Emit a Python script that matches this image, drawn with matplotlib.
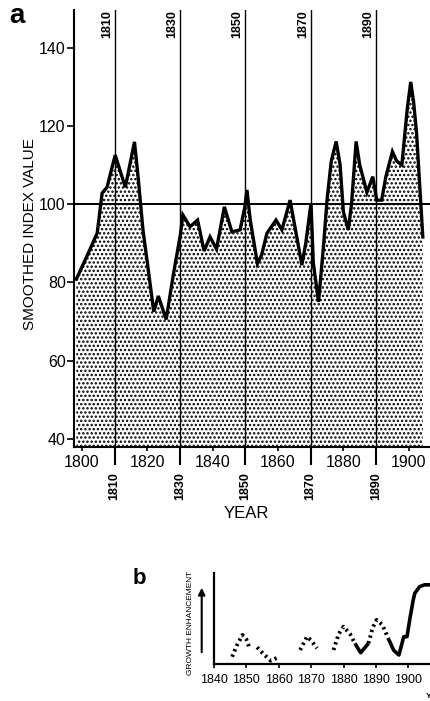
import matplotlib
matplotlib.use("Agg")
import matplotlib.pyplot as plt
from matplotlib import transforms

plt.rcParams['font.family'] = ['Liberation Sans', 'DejaVu Sans']
plt.rcParams['hatch.linewidth'] = 1.15

# ---- panel a data ----
years_a = [1798.3, 1802, 1804.7, 1806.2, 1807.7, 1810.2, 1813.3, 1816.1, 1817.2,
           1818.7, 1820.5, 1822, 1823.4, 1825.8, 1828, 1830.1, 1830.9, 1833.1,
           1835.4, 1837.4, 1839.2, 1841.2, 1843.6, 1845.9, 1848.4, 1849.8, 1850.5,
           1851.5, 1853.7, 1855, 1856.6, 1859.4, 1861.2, 1863.7, 1865, 1867.3,
           1868.5, 1870.1, 1870.8, 1872.4, 1874, 1875, 1876.3, 1877.8, 1879, 1880,
           1881.5, 1882.5, 1883.9, 1885, 1887.2, 1889, 1890.2, 1891.7, 1893, 1895,
           1896.3, 1897.9, 1899.5, 1900.6, 1901.5, 1902.4, 1904.3]
index_a = [80.8, 87.5, 92.6, 102.8, 104.3, 112.5, 104.3, 115.9, 107,
           93.4, 82, 72.5, 76.5, 70.5, 82, 92, 97.2, 94.2,
           95.9, 88, 91.6, 88.5, 99.3, 92.9, 93.4, 99, 103.6,
           96, 84.8, 87, 92.5, 95.9, 93.4, 101, 95, 84.4,
           90, 100.2, 85, 75, 90, 101, 111, 116, 110, 98,
           93.4, 100, 116, 110, 103, 107, 101, 101, 107, 113.4,
           111, 110, 124, 131.2, 126, 118, 91.6]
decade_lines = [1810, 1830, 1850, 1870, 1890]
xticks_a = [1800, 1820, 1840, 1860, 1880, 1900]
yticks_a = [40, 60, 80, 100, 120, 140]

# ---- panel b data ----
b_segments = [
    ('dotted', [1845.6, 1847, 1848.8, 1850, 1851], [8, 20, 31.9, 27, 17.3]),
    ('dotted', [1853.3, 1855, 1857.5, 1859.8], [18.4, 12, 3.6, 7.3]),
    ('dotted', [1866.6, 1868.7, 1870, 1871.8], [15.4, 30, 26, 17.3]),
    ('dotted', [1876.9, 1878.5, 1880, 1882, 1883.5], [15.4, 33, 41, 33, 22.7]),
    ('solid', [1883.5, 1885.3, 1887.7], [22.7, 12.4, 22.7]),
    ('dotted', [1887.7, 1889, 1890.2, 1892, 1893.8], [22.7, 40, 48.4, 43, 28.2]),
    ('solid', [1893.8, 1895.5, 1897.1, 1898.6, 1899.6, 1900.5, 1901.5, 1902, 1903.5, 1905, 1906.7],
     [28.2, 15, 9.9, 30, 30, 50, 70, 77.7, 85, 87, 87]),
]
xticks_b = [1840, 1850, 1860, 1870, 1880, 1890, 1900]

W, H = 430, 701
fig = plt.figure(figsize=(W / 100, H / 100), dpi=100)

# ---------------- panel a ----------------
ax = fig.add_axes([74 / W, 1 - 447 / H, (W - 74) / W, (447 - 10) / H])
ax.set_xlim(1797.6, 1906.5)
ax.set_ylim(37.9, 149.6)
ax.fill_between(years_a, index_a, 37.9, facecolor='white', edgecolor='black',
                hatch='....', linewidth=0)
ax.plot(years_a, index_a, color='black', lw=2.4, solid_joinstyle='miter')
ax.axhline(100, color='black', lw=1.4)
for yr in decade_lines:
    ax.axvline(yr, color='black', lw=1.0)
for s in ['top', 'right']:
    ax.spines[s].set_visible(False)
ax.spines['left'].set_linewidth(1.5)
ax.spines['bottom'].set_linewidth(1.5)
ax.set_xticks(xticks_a)
ax.set_xticklabels([str(t) for t in xticks_a], fontsize=11.5)
ax.set_yticks(yticks_a)
ax.set_yticklabels([str(t) for t in yticks_a], fontsize=11.5)
ax.tick_params(axis='x', length=3, width=1.2, pad=2.5)
ax.tick_params(axis='y', length=5, width=1.2, pad=1)
ax.set_xticks(decade_lines, minor=True)
ax.tick_params(axis='x', which='minor', length=13, width=1.5)

trans = transforms.blended_transform_factory(ax.transData, ax.transAxes)
for yr in decade_lines:
    ax.text(yr - 0.5, 1.0, str(yr), transform=trans, rotation=90, ha='right', va='top',
            fontsize=9, fontweight='bold')
    ax.text(yr, -0.057, str(yr), transform=trans, rotation=90, ha='center', va='top',
            fontsize=9, fontweight='bold')

fig.text(30 / W, 1 - 234 / H, 'SMOOTHED INDEX VALUE', rotation=90, ha='center',
         va='center', fontsize=11)
fig.text(246 / W, 1 - 514 / H, 'YEAR', ha='center', va='center', fontsize=12)
fig.text(9 / W, 1 - 16 / H, 'a', ha='left', va='center', fontsize=20, fontweight='bold')

# ---------------- panel b ----------------
axb = fig.add_axes([214 / W, 1 - 664 / H, (W - 214) / W, (664 - 573) / H])
axb.set_xlim(1840, 1906.7)
axb.set_ylim(0, 100)
for style, xs, ys in b_segments:
    if style == 'dotted':
        axb.plot(xs, ys, color='black', lw=2.8, linestyle=(0, (0.6, 0.9)),
                 dash_capstyle='butt')
    else:
        axb.plot(xs, ys, color='black', lw=2.6, solid_capstyle='butt')
for s in ['top', 'right']:
    axb.spines[s].set_visible(False)
axb.spines['left'].set_linewidth(1.6)
axb.spines['bottom'].set_linewidth(1.6)
axb.set_yticks([])
axb.set_xticks(xticks_b)
axb.set_xticklabels([str(t) for t in xticks_b], fontsize=9)
axb.tick_params(axis='x', length=3, width=1.2, pad=4)

fig.text(190 / W, 1 - 623 / H, 'GROWTH ENHANCEMENT', rotation=90, ha='center',
         va='center', fontsize=6)
fig.text(133 / W, 1 - 579 / H, 'b', ha='left', va='center', fontsize=16,
         fontweight='bold')
fig.text(426 / W, 1 - 697 / H, 'YEAR', ha='left', va='center', fontsize=6,
         fontweight='bold')
axb.annotate('', xy=(201.7, H - 585), xycoords='figure pixels',
             xytext=(201.7, H - 655), textcoords='figure pixels',
             arrowprops=dict(arrowstyle='-|>', color='black', lw=1.5,
                             mutation_scale=10))

fig.savefig('out.png', dpi=100)
